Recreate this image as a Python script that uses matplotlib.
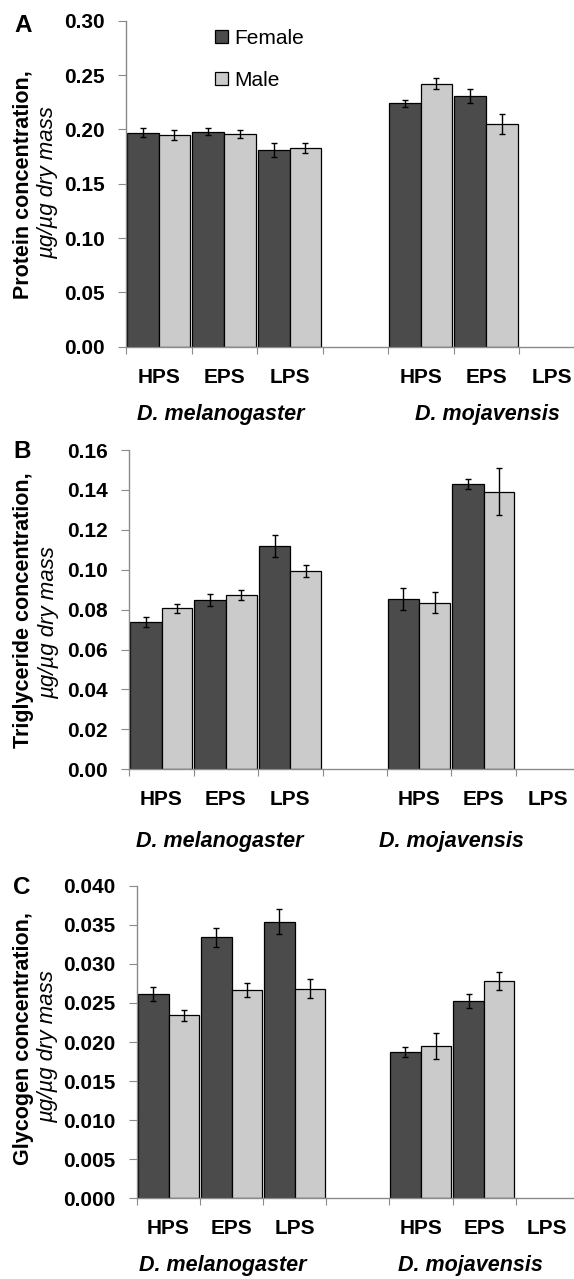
import matplotlib
matplotlib.use('Agg')
import matplotlib.pyplot as plt
from matplotlib.ticker import FormatStrFormatter

plt.rcParams['font.family'] = ['Liberation Sans', 'DejaVu Sans']

# categories
conditions = ['HPS', 'EPS', 'LPS', '', 'HPS', 'EPS', 'LPS']
species = ['D. melanogaster', 'D. mojavensis']
slots = [0, 1, 2, 4, 5]          # slots holding data (mojavensis LPS is empty)

# panel A : protein
prot_f = [0.197, 0.198, 0.181, 0.224, 0.231]
prot_f_err = [0.004, 0.0035, 0.0064, 0.0034, 0.0063]
prot_m = [0.1945, 0.196, 0.183, 0.242, 0.205]
prot_m_err = [0.0046, 0.0038, 0.0046, 0.005, 0.009]

# panel B : triglyceride
tag_f = [0.0738, 0.0848, 0.1119, 0.0853, 0.1431]
tag_f_err = [0.0023, 0.0028, 0.0053, 0.0053, 0.0026]
tag_m = [0.0807, 0.0875, 0.0992, 0.0835, 0.1391]
tag_m_err = [0.0023, 0.0025, 0.003, 0.0052, 0.0119]

# panel C : glycogen
gly_f = [0.0261, 0.0334, 0.0354, 0.0187, 0.0252]
gly_f_err = [0.0009, 0.0012, 0.0016, 0.0006, 0.0009]
gly_m = [0.0234, 0.0267, 0.0268, 0.0195, 0.0278]
gly_m_err = [0.0007, 0.0009, 0.0012, 0.0017, 0.0012]

W, H = 574, 1279
fig = plt.figure(figsize=(W / 100, H / 100), dpi=100)

DARK = '#4b4b4b'
LIGHT = '#cbcbcb'
SPINE = '#8a8a8a'

def px_axes(left, top, bottom):
    return fig.add_axes([left / W, 1 - bottom / H, (W - left) / W, (bottom - top) / H])

def panel(ax, f, fe, m, me, ymax, ystep, fmt, slot_px, letter, ylab, lab_pos,
          sp_x, sp_off):
    ax.bar([s + 0.01 for s in slots], f, width=0.49, align='edge', color=DARK,
           edgecolor='black', linewidth=0.9, label='Female')
    ax.bar([s + 0.50 for s in slots], m, width=0.48, align='edge', color=LIGHT,
           edgecolor='black', linewidth=0.9, label='Male')
    ax.errorbar([s + 0.255 for s in slots], f, yerr=fe, fmt='none', ecolor='black',
                elinewidth=1, capsize=2)
    ax.errorbar([s + 0.74 for s in slots], m, yerr=me, fmt='none', ecolor='black',
                elinewidth=1, capsize=2)
    ax.set_ylim(0, ymax)
    bbox = ax.get_position()
    ax.set_xlim(0, bbox.width * W / slot_px)
    n = int(round(ymax / ystep))
    ax.set_yticks([i * ystep for i in range(n + 1)])
    ax.yaxis.set_major_formatter(FormatStrFormatter(fmt))
    ax.set_xticks(range(7))
    ax.set_xticklabels([])
    ax.set_xticks([i + 0.5 for i in range(7)], minor=True)
    ax.set_xticklabels(conditions, minor=True)
    ax.tick_params(axis='x', which='major', length=5, color=SPINE, direction='out')
    ax.tick_params(axis='x', which='minor', length=0, pad=15, labelsize=15)
    ax.tick_params(axis='y', length=6, color=SPINE, pad=9.5, labelsize=15)
    for lab in ax.get_xticklabels(minor=True) + ax.get_yticklabels():
        lab.set_fontweight('bold')
    for s in ['top', 'right']:
        ax.spines[s].set_visible(False)
    for s in ['left', 'bottom']:
        ax.spines[s].set_color(SPINE)
        ax.spines[s].set_linewidth(1)
    for x, name in zip(sp_x, species):
        ax.annotate(name, xy=(x, 0), xycoords=('data', 'axes fraction'),
                    xytext=(0, -sp_off), textcoords='offset pixels',
                    ha='center', va='center', fontsize=15.5, fontweight='bold',
                    fontstyle='italic')
    (lx, ly), (l1x, l1y), (l2x, l2y) = lab_pos
    fig.text(lx / W, 1 - ly / H, letter, fontsize=17.5, fontweight='bold',
             ha='center', va='center')
    fig.text(l1x / W, 1 - l1y / H, ylab, fontsize=15.5, fontweight='bold',
             rotation=90, ha='center', va='center')
    fig.text(l2x / W, 1 - l2y / H, '\u00b5g/\u00b5g dry mass', fontsize=16,
             fontstyle='italic', rotation=90, ha='center', va='center')

axA = px_axes(126, 20.7, 346.7)
panel(axA, prot_f, prot_f_err, prot_m, prot_m_err, 0.30, 0.05, '%.2f', 65.5,
      'A', 'Protein concentration,', [(23, 25), (23, 185), (48, 183)],
      [1.44, 5.52], 68)
leg = axA.legend(loc='upper left', bbox_to_anchor=(0.199, 0.975), frameon=False,
                 fontsize=15, handlelength=0.6, handleheight=0.6, handletextpad=0.3,
                 labelspacing=1.1, borderpad=0, borderaxespad=0)

axB = px_axes(129.3, 450, 769.3)
panel(axB, tag_f, tag_f_err, tag_m, tag_m_err, 0.16, 0.02, '%.2f', 64.4,
      'B', 'Triglyceride concentration,', [(22, 452), (24, 610), (49, 623)],
      [1.41, 5.0], 72)

axC = px_axes(137, 885.7, 1198.3)
panel(axC, gly_f, gly_f_err, gly_m, gly_m_err, 0.040, 0.005, '%.3f', 63.1,
      'C', 'Glycogen concentration,', [(22, 888), (24, 1039), (48, 1047)],
      [1.36, 5.29], 67)

fig.savefig('out.png', dpi=100)
